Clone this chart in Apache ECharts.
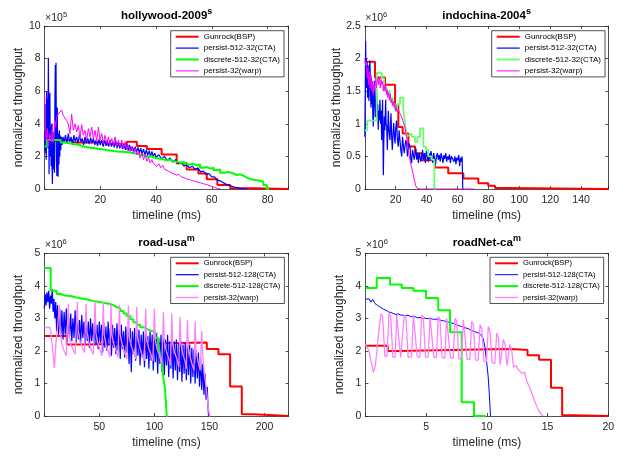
<!DOCTYPE html>
<html><head><meta charset="utf-8">
<script src="https://cdn.jsdelivr.net/npm/echarts@6/dist/echarts.min.js"></script>
<style>html,body{margin:0;padding:0;background:#fff}#c{width:635px;height:456px}</style>
</head><body><div id="c"></div>
<script>
const FONT = '"Liberation Sans", Arial, Helvetica, sans-serif';

// ---- text / categories ----
const plotTitles = ['hollywood-2009', 'indochina-2004', 'road-usa', 'roadNet-ca'];
const titleSups = ['s', 's', 'm', 'm'];
const expPowers = ['5', '6', '6', '6'];
const xAxisName = 'timeline (ms)';
const yAxisName = 'normalized throughput';
const namesTop = ['Gunrock(BSP)', 'persist-512-32(CTA)', 'discrete-512-32(CTA)', 'persist-32(warp)'];
const namesBottom = ['Gunrock(BSP)', 'persist-512-128(CTA)', 'discrete-512-128(CTA)', 'persist-32(warp)'];

// ---- axis ranges / tick steps ----
const xMaxes = [87.6, 157.6, 222, 20];
const xSteps = [20, 20, 50, 5];
const yMaxes = [10, 2.5, 5, 5];
const ySteps = [2, 0.5, 1, 1];

// ---- hollywood-2009 (x1e5) ----
const hwRed = [[0,2.95],[4,3.0],[10,2.85],[16,2.9],[22,2.75],[29.5,2.9],[33.1,2.64],[36.7,2.45],[42.0,2.12],[47.4,1.58],[51.0,1.2],[55.2,0.95],[58.2,0.6],[62.0,0.25],[66.6,0.05],[75,0.0],[87.6,0]];
const hwBlue = [[0,2.4],[0.15,3.6],[0.3,2.2],[0.45,5.2],[0.6,1.8],[0.75,6.0],[0.9,3.0],[1.05,5.5],[1.2,2.5],[1.35,8.05],[1.5,4.0],[1.6,0.9],[1.75,4.5],[1.9,5.9],[2.05,2.0],[2.2,3.8],[2.35,1.4],[2.5,4.0],[2.65,1.6],[2.8,0.3],[2.95,2.5],[3.1,3.5],[3.25,1.2],[3.4,2.8],[3.55,1.0],[3.7,5.5],[3.85,7.6],[4.0,3.0],[4.1,7.75],[4.25,1.8],[4.4,0.8],[4.55,5.0],[4.7,2.0],[4.85,0.75],[5.0,3.4],[5.15,1.5],[5.3,3.6],[5.45,2.0],[5.6,3.3],[5.8,2.4],[6.0,3.2],[6.3,2.7],[6.6,3.2],[7.0,2.9],
[7.5,3.3],[8,2.8],[8.5,3.4],[9,2.9],[9.5,3.2],[10,2.7],[10.5,3.3],[11,2.9],[11.5,3.2],[12,2.8],[12.5,3.3],[13,2.9],[13.5,3.1],[14,2.7],[14.5,3.2],[15,2.8],[15.5,3.1],[16,2.75],[16.5,3.15],[17,2.8],[17.5,3.1],[18,2.7],[18.5,3.0],[19,2.65],[19.5,3.05],[20,2.7],[20.5,3.0],[21,2.6],[21.5,3.0],[22,2.65],[22.5,2.95],[23,2.6],[23.5,3.0],[24,2.6],[24.5,2.9],[25,2.55],[25.5,2.95],[26,2.5],[26.5,2.85],[27,2.5],[27.5,2.8],[28,2.45],[28.5,2.75],[29,2.4],[29.5,2.75],[30,2.35],[30.5,2.7],[31,2.35],[31.5,2.6],[32,2.3],[32.5,2.6],[33,2.25],[33.5,2.55],[34,2.2],[34.5,2.5],[35,2.15],[35.5,2.45],[36,2.1],[36.5,2.4],[37,2.05],[37.5,2.35],[38,2.0],[38.5,2.3],[39,2.0],[39.5,2.2],[40,1.95],[41,2.1],[42,1.85],[43,2.0],[44,1.75],[45,1.9],[46,1.65],[47,1.8],[48,1.55],[49,1.65],[50,1.4],[51,1.5],[52,1.3],[53,1.4],[54,1.2],[55,1.3],[56,1.05],[57,1.1],[58,0.9],[59,0.95],[60,0.75],[61,0.75],[62,0.55],[63,0.5],[64,0.4],[65,0.3],[66,0.25],[67,0.18],[68,0.12],[69,0.08],[70,0.05],[71,0.03],[72,0.01],[73,0]];
const hwGreen = [[0,2.6],[0.8,3.0],[5.8,2.85],[7,2.8],[9,2.75],[11,2.7],[12.7,2.6],[14,2.55],[16,2.5],[18,2.45],[20,2.4],[22,2.35],[24,2.3],[26,2.28],[28,2.25],[30,2.2],[32,2.12],[34,2.05],[36,1.95],[37,2.0],[38,1.9],[40,1.85],[41.5,1.8],[43,1.75],[44,1.8],[45,1.7],[46.5,1.65],[48,1.6],[49,1.68],[50,1.55],[51,1.48],[52,1.55],[53,1.45],[54.6,1.5],[55.8,1.3],[57,1.35],[58,1.25],[59.5,1.3],[60.6,1.17],[62,1.2],[63,1.0],[64.5,1.05],[66,0.95],[67.8,0.86],[69,0.9],[70.2,0.8],[71.5,0.7],[72.6,0.6],[74,0.55],[75.5,0.5],[77.3,0.45],[78.5,0.25],[79.7,0],[80.5,0]];
const hwMagenta = [[0,5.85],[0.25,4.4],[0.5,3.0],[0.75,2.9],[1.0,3.7],[1.3,2.6],[1.6,2.5],[1.9,3.4],[2.2,3.1],[2.5,2.9],[2.8,4.0],[3.1,2.9],[3.4,3.3],[3.7,4.2],[4.0,3.8],[4.3,4.4],[4.9,4.6],[5.5,4.5],[6.1,4.85],[6.7,4.5],[7.3,4.55],[7.9,4.2],[8.5,4.0],[9.1,3.4],[9.7,4.6],[10.3,3.6],[10.9,4.0],[11.5,3.5],[12.1,3.9],[12.7,3.1],[13.3,3.95],[13.9,3.3],[14.5,3.6],[15.1,3.0],[15.7,3.7],[16.3,3.2],[16.9,3.8],[17.5,3.1],[18.1,3.6],[18.7,2.9],[19.3,3.8],[19.9,3.0],[20.5,3.4],[21.1,2.8],[21.7,3.3],[22.3,2.8],[22.9,3.2],[23.5,2.7],[24.1,3.1],[24.7,2.7],[25.3,3.2],[25.9,2.6],[26.5,3.0],[27.1,2.6],[27.7,3.0],[28.3,2.5],[28.9,2.9],[29.5,2.4],[30.1,2.7],[30.7,2.3],[31.3,2.6],[31.9,2.2],[32.5,2.5],[33.1,2.1],[33.7,2.3],[34.3,1.9],[34.9,2.2],[35.5,1.8],[36.1,2.1],[36.7,1.7],[37.3,1.9],[37.9,1.6],[38.5,1.8],[39.1,1.55],[39.7,1.6],[40.3,1.4],[41,1.55],[41.7,1.3],[42.4,1.45],[43.1,1.2],[43.8,1.3],[44.5,1.1],[45.2,1.15],[46,0.95],[46.7,1.05],[47.4,0.85],[48.2,0.9],[49,0.75],[50,0.7],[51,0.62],[52,0.58],[53,0.52],[54,0.48],[55,0.42],[56,0.38],[57,0.32],[58,0.28],[59,0.22],[60,0.16],[61,0.1],[62,0.04],[63,0]];

// ---- indochina-2004 (x1e6) ----
const icRed = [[0,1.95],[6.6,1.71],[13.1,1.6],[19.6,1.28],[21.7,0.95],[24.5,0.85],[28.2,0.65],[32.5,0.55],[36.8,0.44],[45.4,0.33],[54,0.24],[63.8,0.16],[73.5,0.09],[79.9,0.05],[84.3,0.015],[92.9,0],[157.6,0]];
const icBlue = [[0,0.8],[0.3,1.5],[0.55,2.27],[0.8,1.7],[1.0,2.0],[1.2,1.55],[1.5,1.95],[1.8,1.4],[2.1,1.9],[2.4,1.5],[2.7,1.35],[3.0,1.85],[3.35,1.97],[3.7,1.5],[4.0,1.25],[4.3,1.7],[4.6,1.3],[4.9,1.6],[5.2,1.1],[5.5,0.96],[5.8,1.4],[6.15,1.66],[6.5,1.3],[6.8,1.1],[7.05,1.2],[7.4,1.55],[7.7,1.47],[8.0,1.1],[8.4,1.3],[8.7,0.91],[9.0,1.2],[9.4,1.05],[9.8,1.37],[10.2,1.0],[10.6,1.2],[10.9,0.75],[11.2,1.1],[11.5,1.37],[11.75,0.8],[12.0,0.21],[12.3,0.7],[12.6,1.11],[13.0,0.9],[13.5,1.37],[13.8,1.0],[14.2,0.96],[14.6,0.6],[15.2,1.2],[15.7,0.9],[16.3,0.75],[16.95,1.16],[17.4,0.8],[17.8,0.6],[18.3,0.85],[18.7,1.01],[19.2,0.8],[19.6,0.7],[20.1,0.95],[20.6,1.05],[21.1,0.75],[21.7,0.65],[22.2,0.9],[22.8,0.88],[23.3,0.6],[23.9,0.5],[24.4,0.8],[24.9,0.82],[25.5,0.55],[26.0,0.55],[26.5,0.75],[27.1,0.7],[27.6,0.5],[28.2,0.5],[28.7,0.7],[29.3,0.65],[29.8,0.45],[30.3,0.4],[30.9,0.6],[31.4,0.62],[32.0,0.45],[32.5,0.48],[33.1,0.62],[33.6,0.45],[34.2,0.55],[34.7,0.4],[35.3,0.55],[35.8,0.58],[36.3,0.42],[36.8,0.48],[37.4,0.6],[38.0,0.45],[38.6,0.55],[39.2,0.4],[39.8,0.58],[40.4,0.6],[41.0,0.42],[41.6,0.55],[42.2,0.45],[42.8,0.58],[43.4,0.5],[44.0,0.4],[44.6,0.55],[45.2,0.52],[45.8,0.38],[46.4,0.5],[47.0,0.55],[47.6,0.45],[48.2,0.52],[48.8,0.42],[49.4,0.55],[50,0.48],[50.6,0.4],[51.2,0.52],[51.8,0.46],[52.4,0.55],[53,0.42],[53.6,0.5],[54.2,0.45],[54.8,0.53],[55.4,0.4],[56,0.5],[56.6,0.47],[57.2,0.52],[57.8,0.42],[58.4,0.5],[59,0.38],[59.6,0.48],[60.2,0.44],[60.8,0.52],[61.4,0.35],[62,0.48],[62.6,0.42],[63.0,0.5],[63.4,0.0],[64,0]];
const icGreen = [[0,0.9],[1.6,1.05],[7.7,1.78],[11,1.7],[12.5,1.55],[14.2,1.5],[16.3,1.4],[18,1.3],[19.6,1.2],[21,1.3],[22.8,1.4],[24.9,1.25],[26,1.0],[27.1,0.82],[28.5,0.85],[30.3,0.8],[32.5,0.72],[34,0.8],[35.8,0.93],[37.9,0.65],[39.5,0.6],[41.1,0.5],[43.3,0.45],[45,0],[46,0]];
const icMagenta = [[0,2.0],[0.5,1.9],[1,1.95],[1.5,1.7],[2,1.85],[2.5,1.6],[3,1.8],[3.5,1.55],[4,1.75],[4.5,1.5],[5,1.65],[5.5,1.45],[6,1.6],[6.5,1.5],[7,1.7],[7.5,1.55],[8,1.65],[8.5,1.7],[9,1.6],[9.5,1.72],[10,1.55],[10.5,1.68],[11,1.6],[11.5,1.65],[12,1.5],[12.5,1.6],[13,1.5],[13.5,1.58],[14,1.45],[14.5,1.52],[15,1.4],[15.5,1.48],[16,1.36],[16.5,1.45],[17,1.32],[17.5,1.38],[18,1.28],[18.5,1.34],[19,1.25],[19.5,1.3],[20,1.2],[20.5,1.26],[21,1.18],[21.5,1.22],[22,1.2],[23,1.15],[24,1.1],[25,1.02],[26,0.95],[27,0.8],[28,0.62],[29,0.47],[30,0.36],[31,0.26],[32,0.14],[33,0.05],[34,0.01],[36,0],[71,0]];

// ---- road-usa (x1e6) ----
const ruRed = [[0,2.46],[20.4,2.2],[38.5,2.26],[147.6,2.06],[158.2,1.9],[168.8,0.91],[179.4,0.05],[190,0.0],[222,0]];
const ruBlue = [[0,3.3],[0.8,3.75],[1.6,3.4],[2.4,3.8],[3.2,3.5],[4,3.85],[4.8,3.3],[5.6,3.7],[6.4,3.45],[7.2,3.9],[8,3.2],[8.8,3.6],[9.6,3.0],[10.4,3.5],[11.2,2.6],[12,3.4],[13,2.5],[14,3.3],[15,2.45],[16,3.25],[17,2.35],[18,3.2],[19,2.5],[20,3.3],[21,2.3],[22,3.1],[23,2.45],[24,3.15],[25,2.3],[26,3.0],[27,2.4],[28,3.25],[29,2.25],[30,3.05],[31,2.35],[32,2.95],[33,2.2],[34,3.1],[35,2.4],[36,2.9],[37,2.2],[38,3.05],[39,2.3],[40,2.9],[41,2.1],[42,3.0],[43,2.3],[44,2.85],[45,2.15],[46,2.95],[47,2.2],[48,2.8],[49,2.05],[50,2.9],[51,2.25],[52,2.8],[53,1.95],[54,2.85],[55,2.1],[56,2.75],[57,2.0],[58,2.9],[59,2.15],[60,2.7],[61,1.85],[62,2.8],[63,2.1],[64,2.7],[65,1.9],[66,2.85],[67,2.0],[68,2.65],[69,1.75],[70,2.8],[71,2.05],[72,2.6],[73,1.8],[74,2.75],[75,1.95],[76,2.6],[77,1.6],[78,2.7],[79,1.35],[80,2.6],[81,1.9],[82,2.7],[83,1.7],[84,2.55],[85,1.85],[86,2.65],[87,1.55],[88,2.5],[89,1.8],[90,2.6],[91,1.5],[92,2.55],[93,1.75],[94,2.45],[95,1.45],[96,2.6],[97,1.7],[98,2.5],[99,1.4],[100,2.45],[101,1.65],[102,2.55],[103,1.3],[104,2.4],[105,1.6],[106,2.5],[107,1.35],[108,2.4],[109,1.25],[110,2.35],[111,1.55],[112,2.5],[113,1.2],[114,2.3],[115,1.45],[116,2.4],[117,1.15],[118,2.3],[119,1.4],[120,2.35],[121,1.1],[122,2.25],[123,1.35],[124,2.3],[125,1.05],[126,2.2],[127,1.3],[128,2.25],[129,1.1],[130,2.15],[131,1.25],[132,2.2],[133,1.0],[134,2.1],[135,1.2],[136,2.05],[137,1.0],[138,2.0],[139,1.15],[140,1.95],[141,0.9],[142,1.8],[143,0.8],[144,1.6],[145,0.65],[146,1.3],[147,0.5],[148,0.9],[148.7,0.3],[149.2,0],[150,0]];
const ruGreen = [[0,4.55],[5.8,3.85],[11.2,3.75],[15,3.7],[18.8,3.68],[25,3.63],[30,3.6],[35.5,3.57],[40,3.53],[45,3.5],[50.6,3.47],[55,3.44],[59.7,3.4],[63,3.35],[65.8,3.3],[69,3.23],[72,3.15],[74.9,3.07],[78,2.97],[80.9,2.88],[84,2.8],[87,2.73],[90,2.68],[93,2.63],[96,2.6],[99,2.56],[101,2.4],[103.6,2.2],[105,1.9],[106.7,1.6],[108,1.2],[109.7,0.8],[110.5,0.4],[111.2,0],[112,0]];
const ruMagenta = [[0,2.72],[5,2.72],[6,2.6],[7,2.2],[8,1.9],[9.2,1.47],[10.5,2.2],[12.5,2.9],[13.7,3.4],[14.5,2.6],[16,2.2],[18,2.0],[20,1.85],[21.8,3.45],[22.6,2.5],[24,2.2],[26,2.05],[28,1.9],[30,3.5],[30.8,2.6],[32.5,2.3],[34.5,2.1],[36.5,1.95],[37.9,3.45],[38.7,2.6],[40.5,2.25],[42.5,2.05],[44.5,1.9],[46.1,3.5],[46.9,2.55],[48.5,2.25],[50.5,2.05],[52.3,1.85],[53.6,3.5],[54.4,2.5],[56,2.2],[58,2.0],[59.6,1.8],[60.6,3.45],[61.4,2.5],[63.2,2.2],[65.2,2.0],[67,1.8],[68.2,3.4],[69,2.5],[70.8,2.2],[72.8,1.95],[75,1.75],[76.4,3.4],[77.2,2.45],[79,2.15],[81,1.95],[82.8,1.75],[83.9,3.35],[84.7,2.45],[86.5,2.15],[88.5,1.9],[90.8,1.7],[92.1,3.3],[92.9,2.4],[94.7,2.1],[96.7,1.9],[98.7,1.7],[100,3.3],[100.8,2.35],[102.6,2.05],[104.6,1.85],[106.8,1.6],[108.2,3.2],[109,2.3],[110.8,2.0],[112.8,1.8],[114.6,1.55],[115.8,3.15],[116.6,2.25],[118.4,1.95],[120.4,1.75],[122.2,1.5],[123.3,3.05],[124.1,2.2],[126,1.9],[128,1.65],[129,1.45],[130,2.95],[130.8,2.1],[132.6,1.8],[134.6,1.55],[136,1.4],[137,2.9],[137.8,2.0],[139.6,1.7],[141.6,1.4],[143,2.6],[144,1.8],[145.5,1.3],[146.5,1.0],[147.6,0.7],[148.8,0.3],[150,0],[151,0]];

// ---- roadNet-ca (x1e6) ----
const rnRed = [[0,2.16],[1.84,2.0],[2.71,2.06],[11.5,2.05],[12.4,2.03],[13.35,1.87],[14.3,1.73],[15.28,0.87],[16.2,0.02],[17.1,0.0],[20,0]];
const rnBlue = [[0,3.59],[0.15,3.55],[0.3,3.6],[0.45,3.5],[0.6,3.58],[0.8,3.45],[1.0,3.4],[1.2,3.35],[1.35,3.3],[1.5,3.28],[1.7,3.25],[1.9,3.2],[2.1,3.18],[2.3,3.15],[2.5,3.12],[2.7,3.14],[2.9,3.1],[3.1,3.1],[3.3,3.08],[3.5,3.1],[3.7,3.06],[3.9,3.05],[4.1,3.05],[4.3,3.02],[4.5,3.03],[4.7,3.0],[4.9,3.01],[5.1,2.99],[5.3,3.0],[5.5,2.98],[5.7,2.97],[5.9,2.98],[6.1,2.95],[6.3,2.93],[6.5,2.92],[6.7,2.9],[6.9,2.88],[7.1,2.86],[7.3,2.84],[7.5,2.8],[7.7,2.78],[7.9,2.75],[8.1,2.73],[8.3,2.7],[8.5,2.68],[8.7,2.63],[8.9,2.6],[9.1,2.58],[9.3,2.55],[9.5,2.5],[9.7,2.38],[9.85,2.1],[10.0,1.6],[10.1,1.25],[10.2,0.7],[10.3,0.0]];
const rnGreen = [[0,3.93],[0.93,4.24],[2.03,4.04],[2.99,3.93],[3.95,3.85],[4.99,3.63],[6.0,3.25],[6.97,2.57],[7.93,0.42],[8.94,0.0],[9.9,0]];
const rnMagenta = [[0,2.2],[0.15,2.22],[0.3,2.0],[0.45,1.7],[0.65,1.35],[0.8,1.5],[0.95,2.0],[1.1,2.6],[1.28,3.15],[1.42,3.05],[1.6,1.85],[1.78,1.82],[1.94,3.15],[2.08,3.08],[2.26,1.82],[2.44,1.8],[2.58,3.1],[2.72,3.05],[2.9,1.8],[3.06,1.82],[3.2,3.1],[3.34,3.02],[3.52,1.8],[3.8,1.82],[3.95,3.1],[4.09,3.05],[4.27,1.82],[4.48,1.8],[4.63,3.1],[4.77,3.02],[4.95,1.8],[5.17,1.82],[5.32,3.05],[5.46,3.0],[5.64,1.8],[5.85,1.8],[6.0,3.05],[6.14,2.98],[6.32,1.8],[6.54,1.78],[6.69,3.0],[6.83,2.95],[7.01,1.78],[7.23,1.78],[7.38,3.0],[7.52,2.92],[7.7,1.76],[7.91,1.76],[8.06,2.95],[8.2,2.9],[8.38,1.74],[8.6,1.74],[8.75,2.9],[8.89,2.82],[9.07,1.72],[9.29,1.72],[9.44,2.8],[9.58,2.7],[9.76,1.68],[9.97,1.66],[10.12,2.75],[10.26,2.6],[10.44,1.64],[10.66,1.62],[10.81,2.55],[10.95,2.4],[11.1,1.58],[11.22,1.58],[11.36,2.35],[11.5,2.2],[11.66,1.55],[11.78,1.52],[11.9,2.2],[12.05,2.0],[12.2,1.5],[12.4,1.55],[12.55,1.45],[12.7,1.5],[12.9,1.3],[13.1,1.35],[13.3,1.05],[13.5,0.9],[13.7,0.7],[13.9,0.5],[14.1,0.3],[14.3,0.14],[14.5,0.04],[14.65,0]];

const plotData = [
  [hwRed, hwBlue, hwGreen, hwMagenta],
  [icRed, icBlue, icGreen, icMagenta],
  [ruRed, ruBlue, ruGreen, ruMagenta],
  [rnRed, rnBlue, rnGreen, rnMagenta]
];
const plotNames = [namesTop, namesTop, namesBottom, namesBottom];

// ---- layout / style (not data) ----
const gridRects = [
  {left: 44.6, top: 26, width: 244.1, height: 163},
  {left: 364.8, top: 26, width: 243.5, height: 163},
  {left: 44.3, top: 253.3, width: 244.4, height: 162.7},
  {left: 365.4, top: 253.3, width: 242.9, height: 162.7}
];
const legendPos = [[170.7, 30.7], [491.7, 30.7], [170.7, 257.3], [490, 257.3]];
const legendFont = [8, 8, 7.6, 7.6];
const lineStyles = [
  [{c:'#ff0000',w:2,s:'end'},{c:'#0000ff',w:1.2},{c:'#00ff00',w:2,s:'end'},{c:'#ff00ff',w:1}],
  [{c:'#ff0000',w:2,s:'end'},{c:'#0000ff',w:1.2},{c:'#66ff66',w:1.8,s:'end'},{c:'#ff00ff',w:1}],
  [{c:'#ff0000',w:2,s:'end'},{c:'#0000ff',w:1.2},{c:'#00ff00',w:2,s:'end'},{c:'#ff80ff',w:1.3}],
  [{c:'#ff0000',w:2,s:'end'},{c:'#0000ff',w:1},{c:'#00ff00',w:2,s:'end'},{c:'#ff80ff',w:1.3}]
];
const AX = '#262626';

const grid = [], xAxis = [], yAxis = [], series = [], legend = [], graphic = [];
function stepFormatter(step) {
  return function (v) {
    const r = v / step;
    return (v > 1e-9 && Math.abs(r - Math.round(r)) < 1e-6) ? String(+v.toFixed(3)) : '';
  };
}
function yFormatter(step) {
  return function (v) {
    const r = v / step;
    return (Math.abs(r - Math.round(r)) < 1e-6) ? String(+v.toFixed(3)) : '';
  };
}
for (let i = 0; i < 4; i++) {
  const g = gridRects[i];
  grid.push({left: g.left, top: g.top, width: g.width, height: g.height, containLabel: false, show: false});
  const common = {
    type: 'value', gridIndex: i, min: 0,
    axisLine: {show: true, onZero: false, lineStyle: {color: AX, width: 0.8}},
    axisTick: {show: true, inside: true, length: 3, lineStyle: {color: AX, width: 0.8}},
    splitLine: {show: false}
  };
  xAxis.push(Object.assign({}, common, {
    position: 'bottom', max: xMaxes[i], interval: xSteps[i],
    axisLabel: {show: true, margin: 6, color: AX, fontSize: 10.5, fontFamily: FONT, formatter: stepFormatter(xSteps[i]), showMinLabel: true, showMaxLabel: true},
    name: xAxisName, nameLocation: 'middle', nameGap: 21,
    nameTextStyle: {color: AX, fontSize: 12, fontFamily: FONT}
  }));
  yAxis.push(Object.assign({}, common, {
    position: 'left', max: yMaxes[i], interval: ySteps[i],
    axisLabel: {show: true, margin: 4, color: AX, fontSize: 10.5, fontFamily: FONT, formatter: yFormatter(ySteps[i])},
    name: yAxisName, nameLocation: 'middle', nameGap: 20,
    nameTextStyle: {color: AX, fontSize: 12, fontFamily: FONT}
  }));
}
for (let i = 0; i < 4; i++) {
  const common = {
    type: 'value', gridIndex: i, min: 0,
    axisLine: {show: true, onZero: false, lineStyle: {color: AX, width: 0.8}},
    axisTick: {show: true, inside: true, length: 3, lineStyle: {color: AX, width: 0.8}},
    axisLabel: {show: false}, splitLine: {show: false}
  };
  xAxis.push(Object.assign({}, common, {position: 'top', max: xMaxes[i], interval: xSteps[i]}));
  yAxis.push(Object.assign({}, common, {position: 'right', max: yMaxes[i], interval: ySteps[i]}));
}
for (let i = 0; i < 4; i++) {
  const names = plotNames[i];
  for (let k = 0; k < 4; k++) {
    const st = lineStyles[i][k];
    series.push({
      type: 'line', name: names[k], xAxisIndex: i, yAxisIndex: i,
      data: plotData[i][k], showSymbol: false, symbol: 'none', step: st.s || false,
      lineStyle: {color: st.c, width: st.w}, itemStyle: {color: st.c},
      clip: true, animation: false, z: 2 + k
    });
  }
  legend.push({
    show: true, left: legendPos[i][0], top: legendPos[i][1], orient: 'vertical',
    padding: [2, 4, 2, 4], itemGap: 3.4, itemWidth: 23, itemHeight: 8,
    backgroundColor: '#ffffff', borderColor: AX, borderWidth: 0.8,
    textStyle: {color: '#000', fontSize: legendFont[i], fontFamily: FONT},
    data: names.map((n, k) => ({
      name: n,
      lineStyle: {color: lineStyles[i][k].c, width: lineStyles[i][k].w, opacity: 1},
      itemStyle: {opacity: 0, borderWidth: 0}
    }))
  });
  const g = gridRects[i];
  graphic.push({
    type: 'text', x: g.left + g.width / 2, y: g.top - 10, z: 10,
    style: {
      text: '{a|' + plotTitles[i] + '}{s|' + titleSups[i] + '}',
      align: 'center', verticalAlign: 'middle',
      rich: {
        a: {fontSize: 11.5, fontWeight: 'bold', fontFamily: FONT, fill: '#000'},
        s: {fontSize: 9, fontWeight: 'bold', fontFamily: FONT, fill: '#000', verticalAlign: 'top', padding: [0, 0, 9, 0]}
      }
    }
  });
  graphic.push({
    type: 'text', x: g.left + 0.5, y: g.top - 8, z: 10,
    style: {
      text: '{a|\u00d710}{s|' + expPowers[i] + '}',
      align: 'left', verticalAlign: 'middle',
      rich: {
        a: {fontSize: 10.5, fontFamily: FONT, fill: AX},
        s: {fontSize: 7.5, fontFamily: FONT, fill: AX, verticalAlign: 'top', padding: [0, 0, 6, 0]}
      }
    }
  });
}
const chart = echarts.init(document.getElementById('c'), null, {renderer: 'canvas'});
chart.setOption({
  animation: false, backgroundColor: '#ffffff',
  grid, xAxis, yAxis, series, legend, graphic
});
</script>
</body></html>
